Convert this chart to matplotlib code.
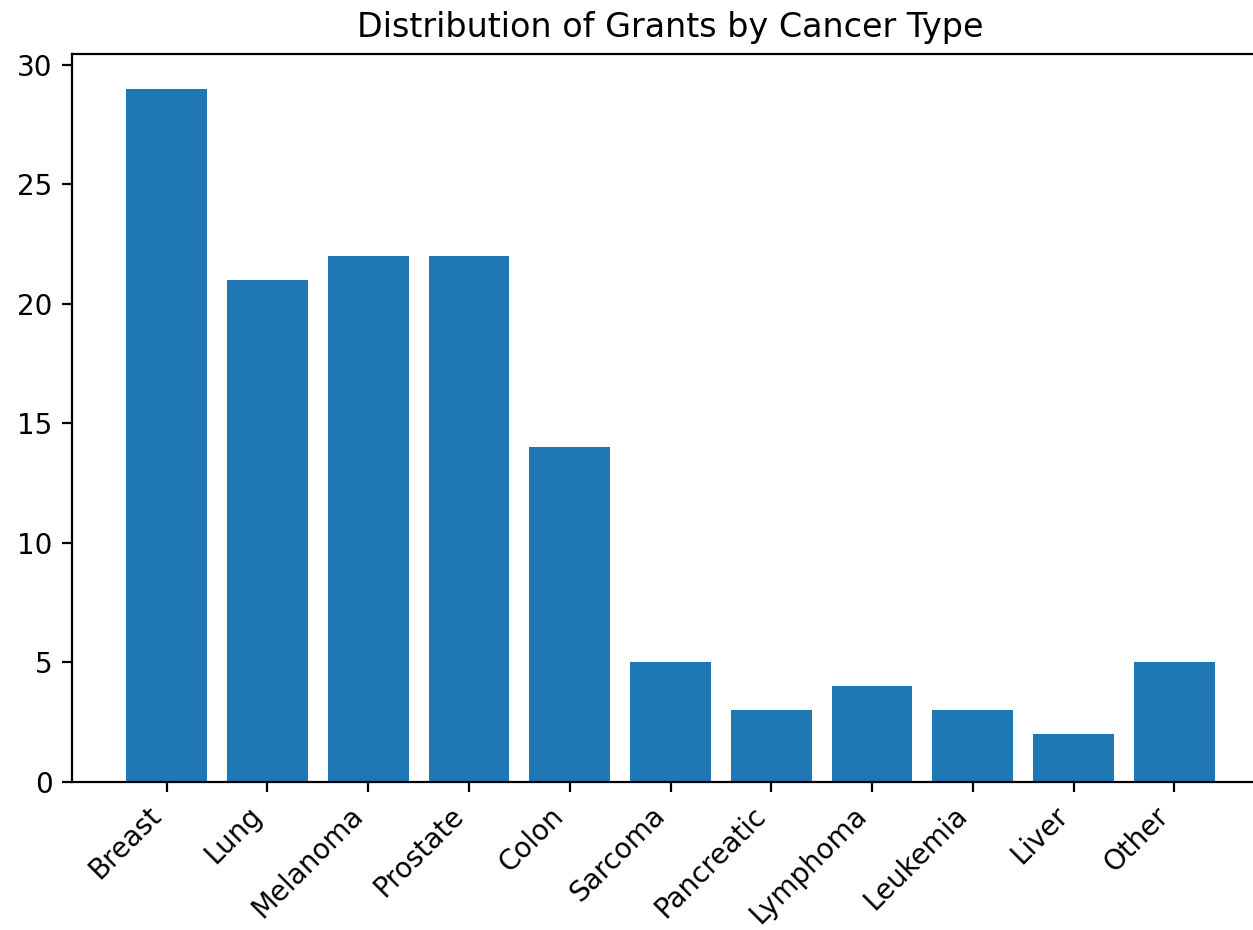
import matplotlib
matplotlib.use("Agg")
import matplotlib.pyplot as plt

categories = ["Breast", "Lung", "Melanoma", "Prostate", "Colon", "Sarcoma",
              "Pancreatic", "Lymphoma", "Leukemia", "Liver", "Other"]
counts = [29, 21, 22, 22, 14, 5, 3, 4, 3, 2, 5]

fig = plt.figure(figsize=(1253 / 200, 930 / 200), dpi=200)
ax = fig.add_axes([72 / 1253, 1 - 782 / 930, (1269 - 72) / 1253, (782 - 54) / 930])
ax.bar(categories, counts, color="#1f77b4")
ax.set_title("Distribution of Grants by Cancer Type", fontsize=12)
plt.setp(ax.get_xticklabels(), rotation=45, ha="right")
fig.savefig("out.png", dpi=200)
